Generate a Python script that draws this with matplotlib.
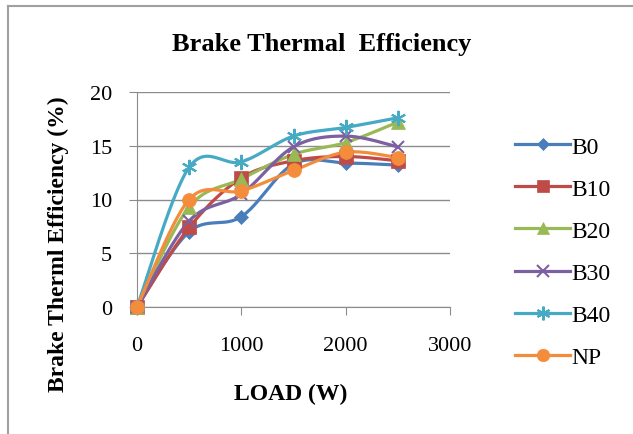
import numpy as np
import matplotlib.pyplot as plt
from matplotlib.lines import Line2D

load = [0, 500, 1000, 1500, 2000, 2500]
b0 = [0, 7.0, 8.4, 13.3, 13.4, 13.2]
b10 = [0, 7.4, 12.0, 13.6, 14.0, 13.6]
b20 = [0, 9.3, 11.9, 14.2, 15.3, 17.2]
b30 = [0, 8.0, 10.5, 14.9, 15.9, 14.9]
b40 = [0, 13.0, 13.5, 15.9, 16.7, 17.6]
np_fuel = [0, 10.0, 10.8, 12.7, 14.4, 13.9]
names = ['B0', 'B10', 'B20', 'B30', 'B40', 'NP']


def smooth(x, y, n=30):
    # catmull-rom style curve through the points, like excel smoothed lines
    x = np.asarray(x, float)
    y = np.asarray(y, float)
    px = np.concatenate([[x[0]], x, [x[-1]]])
    py = np.concatenate([[y[0]], y, [y[-1]]])
    xs, ys = [], []
    t = np.linspace(0, 1, n)
    for i in range(1, len(px) - 2):
        p0 = np.array([px[i], py[i]])
        p3 = np.array([px[i + 1], py[i + 1]])
        c1 = p0 + (np.array([px[i + 1], py[i + 1]]) - np.array([px[i - 1], py[i - 1]])) / 6
        c2 = p3 - (np.array([px[i + 2], py[i + 2]]) - p0) / 6
        b = ((1 - t) ** 3)[:, None] * p0 + (3 * (1 - t) ** 2 * t)[:, None] * c1 \
            + (3 * (1 - t) * t ** 2)[:, None] * c2 + (t ** 3)[:, None] * p3
        xs.extend(b[:, 0])
        ys.extend(b[:, 1])
    return xs, ys


series = [b0, b10, b20, b30, b40, np_fuel]
colors = ['#4A7EBB', '#BE4B48', '#98B954', '#7D60A0', '#46AAC5', '#F38D3C']
markers = ['D', 's', '^', 'x', (6, 2, 0), 'o']
msizes = [7, 9.5, 10, 9, 11, 10]

plt.rcParams['font.family'] = ['Liberation Serif', 'DejaVu Serif']

W, H = 633, 435
fig = plt.figure(figsize=(W / 100, H / 100), dpi=100)
ax = fig.add_axes([137 / W, (H - 308) / H, 313 / W, 215 / H])

handles = []
for vals, c, m, ms, name in zip(series, colors, markers, msizes, names):
    sx, sy = smooth(load, vals)
    ax.plot(sx, sy, color=c, lw=2.3, solid_capstyle='round', zorder=3, clip_on=False)
    mew = 1.5 if m in ('x', (6, 2, 0)) else 0.5
    ax.plot(load, vals, ls='none', marker=m, ms=ms, color=c, mec=c, mew=mew,
            zorder=4, clip_on=False)
    handles.append(Line2D([], [], color=c, lw=2.3, marker=m, ms=ms * 0.9, mec=c, mew=mew))

ax.set_xlim(0, 3000)
ax.set_ylim(0, 20)
ax.set_xticks([0, 1000, 2000, 3000])
ax.set_yticks([0, 5, 10, 15, 20])
ax.grid(axis='y', color='#8c8c8c', lw=1)
ax.set_axisbelow(True)
for s in ['top', 'right']:
    ax.spines[s].set_visible(False)
for s in ['left', 'bottom']:
    ax.spines[s].set_color('#8c8c8c')
ax.tick_params(colors='#8c8c8c', labelcolor='black', labelsize=16, length=6)
ax.tick_params(axis='y', pad=12)
ax.tick_params(axis='x', pad=15)

fig.text(322 / W, 1 - 45 / H, 'Brake Thermal  Efficiency', fontsize=19,
         fontweight='bold', ha='center', va='center')
fig.text(291 / W, 1 - 394 / H, 'LOAD (W)', fontsize=17, fontweight='bold',
         ha='center', va='center')
fig.text(58 / W, 1 - 244 / H, 'Brake Therml Efficiency (%)', fontsize=17,
         fontweight='bold', rotation=90, ha='center', va='center')

fig.legend(handles, names, loc='center left', bbox_to_anchor=(503 / W, 1 - 253 / H),
           frameon=False, fontsize=17, labelspacing=0.87, handlelength=2.35,
           handletextpad=0.05, borderpad=0)

fig.add_artist(Line2D([8 / W, 8 / W], [0, 1 - 7 / H], color='#a0a0a0', lw=1.5,
                      transform=fig.transFigure))
fig.add_artist(Line2D([8 / W, 1], [1 - 7 / H, 1 - 7 / H], color='#a0a0a0', lw=1.5,
                      transform=fig.transFigure))

fig.savefig('out.png', dpi=100)
